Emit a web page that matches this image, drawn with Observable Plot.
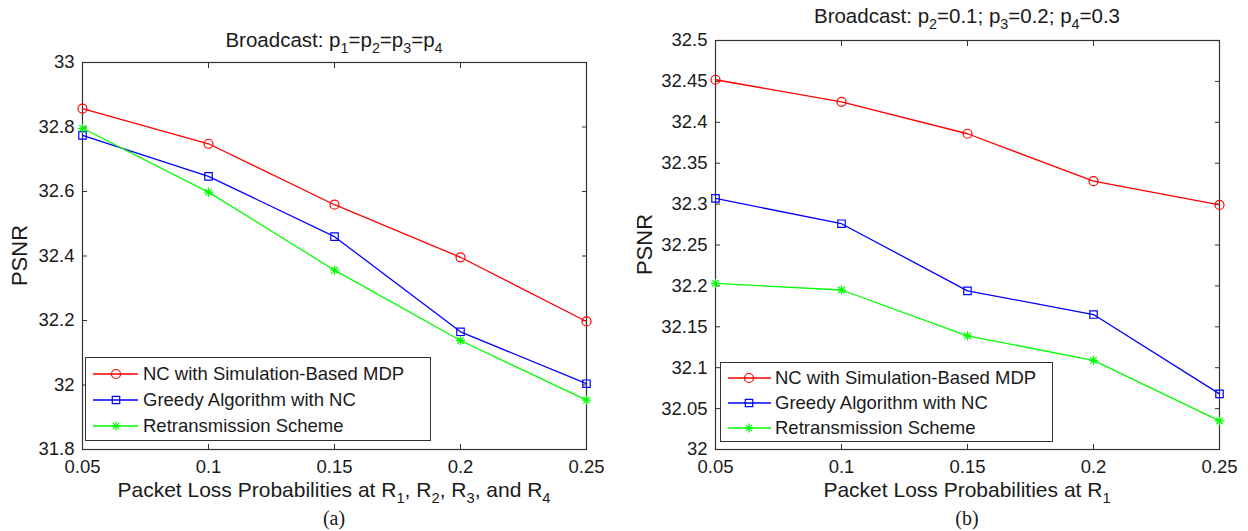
<!DOCTYPE html>
<html><head><meta charset="utf-8">
<script src="https://cdn.jsdelivr.net/npm/d3@7"></script>
<script src="https://cdn.jsdelivr.net/npm/@observablehq/plot@0.6"></script>
<style>
body{margin:0;background:#fff;}
#wrap{position:relative;width:1248px;height:531px;overflow:hidden;background:#fff;font-family:"Liberation Sans",Arial,sans-serif;color:#1a1a1a;}
.panel{position:absolute;top:0;}
.legend{position:absolute;border:1.2px solid #333;background:#fff;box-sizing:border-box;font-size:18.5px;}
.row{position:absolute;left:0;display:flex;align-items:center;white-space:nowrap;}
.row svg{display:block;flex:none;}
</style></head><body><div id="wrap"></div>
<script>
// ---------- data ----------
const xValues = [0.05, 0.1, 0.15, 0.2, 0.25];
const seriesNames = ["NC with Simulation-Based MDP", "Greedy Algorithm with NC", "Retransmission Scheme"];
const seriesColors = ["#ff0000", "#0000ff", "#00ff00"];
// Panel (a): p1=p2=p3=p4
const a_mdp    = [32.857, 32.748, 32.559, 32.396, 32.197];
const a_greedy = [32.774, 32.647, 32.460, 32.165, 32.004];
const a_retx   = [32.796, 32.598, 32.356, 32.138, 31.953];
// Panel (b): p2=0.1; p3=0.2; p4=0.3
const b_mdp    = [32.452, 32.425, 32.386, 32.328, 32.299];
const b_greedy = [32.307, 32.276, 32.194, 32.165, 32.068];
const b_retx   = [32.203, 32.195, 32.139, 32.109, 32.035];
// ticks
const xTicks  = [0.05, 0.1, 0.15, 0.2, 0.25];
const yTicksA = [31.8, 32, 32.2, 32.4, 32.6, 32.8, 33];
const yTicksB = [32, 32.05, 32.1, 32.15, 32.2, 32.25, 32.3, 32.35, 32.4, 32.45, 32.5];

const FONT = '"Liberation Sans", Arial, sans-serif';
const INK = "#1a1a1a";
const FRAME = "#333";
const fmt = d => String(+d.toFixed(3));

function tidy(arrs) {
  return arrs.flatMap((vals, i) => vals.map((v, j) => ({x: xValues[j], y: v, s: seriesNames[i]})));
}

function makePlot(data, yDomain, yTicks, m) {
  const bySeries = k => data.filter(d => d.s === seriesNames[k]);
  return Plot.plot({
    width: 624, height: 531,
    marginLeft: m.left, marginRight: m.right, marginTop: m.top, marginBottom: m.bottom,
    style: {fontFamily: FONT, fontSize: "18.5px", color: INK, background: "transparent", overflow: "visible"},
    x: {domain: [xTicks[0], xTicks[xTicks.length - 1]]},
    y: {domain: yDomain},
    color: {domain: seriesNames, range: seriesColors},
    marks: [
      Plot.axisX(xTicks, {anchor: "bottom", tickSize: -5, tickPadding: 15, tickFormat: fmt, label: null, stroke: FRAME}),
      Plot.axisX(xTicks, {anchor: "top", tickSize: -5, tickFormat: () => "", label: null, stroke: FRAME}),
      Plot.axisY(yTicks, {anchor: "left", tickSize: -5, tickPadding: 13, tickFormat: fmt, label: null, stroke: FRAME}),
      Plot.axisY(yTicks, {anchor: "right", tickSize: -5, tickFormat: () => "", label: null, stroke: FRAME}),
      Plot.frame({stroke: FRAME, strokeWidth: 1.2}),
      Plot.line(data, {x: "x", y: "y", z: "s", stroke: "s", strokeWidth: 1.3}),
      Plot.dot(bySeries(0), {x: "x", y: "y", stroke: "s", symbol: "circle", r: 4.5, fill: "none", strokeWidth: 1.2}),
      Plot.dot(bySeries(1), {x: "x", y: "y", stroke: "s", symbol: "square", r: 4.2, fill: "none", strokeWidth: 1.2}),
      Plot.dot(bySeries(2), {x: "x", y: "y", stroke: "s", symbol: "plus", r: 3, strokeWidth: 1.3}),
      Plot.dot(bySeries(2), {x: "x", y: "y", stroke: "s", symbol: "times", r: 3, strokeWidth: 1.3})
    ]
  });
}

const wrap = document.getElementById("wrap");

const plotA = makePlot(tidy([a_mdp, a_greedy, a_retx]), [31.8, 33], yTicksA, {left: 82, right: 38, top: 62, bottom: 82});
const plotB = makePlot(tidy([b_mdp, b_greedy, b_retx]), [32, 32.5], yTicksB, {left: 91, right: 29, top: 40, bottom: 82});
const pa = document.createElement("div"); pa.className = "panel"; pa.style.left = "0px"; pa.appendChild(plotA); wrap.appendChild(pa);
const pb = document.createElement("div"); pb.className = "panel"; pb.style.left = "624px"; pb.appendChild(plotB); wrap.appendChild(pb);

// ---------- legends ----------
function legendSample(i, w, mx) {
  const svg = d3.create("svg").attr("width", w).attr("height", 20);
  svg.append("line").attr("x1", 0).attr("x2", w).attr("y1", 10).attr("y2", 10).attr("stroke", seriesColors[i]).attr("stroke-width", 1.3);
  const g = svg.append("g").attr("transform", `translate(${mx},10)`).attr("stroke", seriesColors[i]).attr("fill", "none").attr("stroke-width", 1.2);
  if (i === 0) g.append("path").attr("d", d3.symbol(d3.symbolCircle, Math.PI * 4.5 * 4.5)());
  else if (i === 1) g.append("path").attr("d", d3.symbol(d3.symbolSquare, Math.PI * 4.2 * 4.2)());
  else {
    g.append("path").attr("d", d3.symbol(d3.symbolPlus, Math.PI * 9)());
    g.append("path").attr("d", d3.symbol(d3.symbolTimes, Math.PI * 9)());
  }
  return svg.node();
}
function addLegend(box) {
  const div = document.createElement("div");
  div.className = "legend";
  Object.assign(div.style, {left: box.x + "px", top: box.y + "px", width: box.w + "px", height: box.h + "px"});
  seriesNames.forEach((name, i) => {
    const row = document.createElement("div");
    row.className = "row";
    row.style.top = (box.first + i * box.step - 10) + "px";
    row.style.height = "20px";
    row.style.paddingLeft = box.lineStart + "px";
    const smp = legendSample(i, box.lineW, box.mark);
    smp.style.marginRight = box.gap + "px";
    row.appendChild(smp);
    const sp = document.createElement("span");
    sp.textContent = name;
    row.appendChild(sp);
    div.appendChild(row);
  });
  wrap.appendChild(div);
}
addLegend({x: 85, y: 357, w: 346, h: 84, first: 16, step: 26, lineStart: 7, lineW: 45, mark: 23, gap: 5});
addLegend({x: 720, y: 362, w: 333, h: 80, first: 15, step: 25, lineStart: 7, lineW: 43, mark: 21, gap: 4});

// ---------- titles and axis labels ----------
const overlay = d3.select(wrap).append("svg")
  .attr("width", 1248).attr("height", 531)
  .style("position", "absolute").style("left", 0).style("top", 0)
  .style("pointer-events", "none").style("font-family", FONT);
function richText(x, y, parts, size, opts = {}) {
  const t = overlay.append("text").attr("x", x).attr("y", y)
    .attr("text-anchor", "middle").attr("font-size", size).attr("fill", INK);
  if (opts.rotate) t.attr("transform", `rotate(-90 ${x} ${y})`);
  if (opts.family) t.attr("font-family", opts.family);
  if (opts.weight) t.attr("font-weight", opts.weight);
  let shifted = false;
  const sh = size * 0.28;
  for (const p of parts) {
    const sub = Array.isArray(p);
    const s = t.append("tspan").text(sub ? p[0] : p);
    if (sub) { s.attr("font-size", size * 0.7); if (!shifted) { s.attr("dy", sh); shifted = true; } }
    else if (shifted) { s.attr("dy", -sh); shifted = false; }
  }
}
const titleA = ["Broadcast: p", ["1"], "=p", ["2"], "=p", ["3"], "=p", ["4"]];
const titleB = ["Broadcast: p", ["2"], "=0.1; p", ["3"], "=0.2; p", ["4"], "=0.3"];
const xLabelA = ["Packet Loss Probabilities at R", ["1"], ", R", ["2"], ", R", ["3"], ", and R", ["4"]];
const xLabelB = ["Packet Loss Probabilities at R", ["1"]];
const yLabel = ["PSNR"];

richText(334, 47, titleA, 20.5);
richText(967, 23, titleB, 20.5);
richText(334, 497, xLabelA, 21);
richText(967, 497, xLabelB, 21);
richText(334, 525, ["(a)"], 20, {family: '"Liberation Serif", "Times New Roman", serif'});
richText(967, 525, ["(b)"], 20, {family: '"Liberation Serif", "Times New Roman", serif'});
richText(27, 255.5, yLabel, 22, {rotate: true});
richText(652, 244.5, yLabel, 22, {rotate: true});
</script>
</body></html>
